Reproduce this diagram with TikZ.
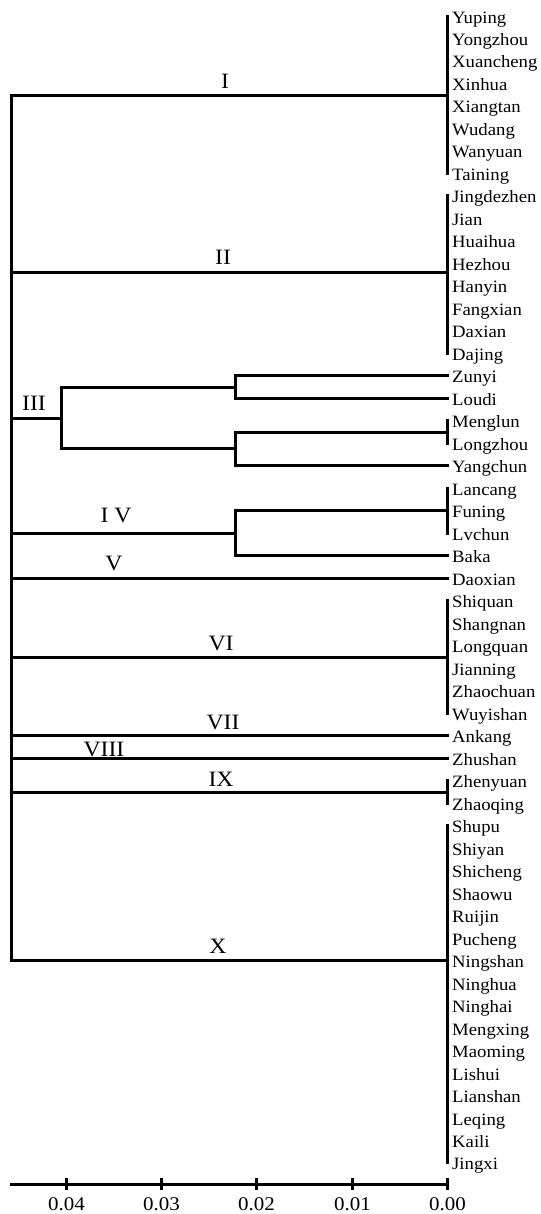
\documentclass[tikz,border=0pt]{standalone}
\usepackage{fontspec}
\setmainfont{Liberation Serif}[FakeStretch=1.08]
\begin{document}
\begin{tikzpicture}[x=1bp,y=-1bp,
  br/.style={line width=3bp, line cap=rect, line join=miter},
  leaf/.style={anchor=base west, inner sep=0pt, font=\fontsize{17.4}{17.4}\selectfont},
  roman/.style={anchor=base, inner sep=0pt, font=\fontsize{22}{22}\selectfont},
  ticklab/.style={anchor=base, inner sep=0pt, font=\fontsize{19.5}{19.5}\selectfont}]
\useasboundingbox (0,0) rectangle (541,1214);
% leaves
\foreach \nm [count=\i from 0] in {Yuping,Yongzhou,Xuancheng,Xinhua,Xiangtan,Wudang,Wanyuan,Taining,
  Jingdezhen,Jian,Huaihua,Hezhou,Hanyin,Fangxian,Daxian,Dajing,
  Zunyi,Loudi,Menglun,Longzhou,Yangchun,
  Lancang,Funing,Lvchun,Baka,Daoxian,
  Shiquan,Shangnan,Longquan,Jianning,Zhaochuan,Wuyishan,
  Ankang,Zhushan,Zhenyuan,Zhaoqing,
  Shupu,Shiyan,Shicheng,Shaowu,Ruijin,Pucheng,Ningshan,Ninghua,Ninghai,Mengxing,Maoming,Lishui,Lianshan,Leqing,Kaili,Jingxi}{
  \pgfmathsetmacro\yy{floor(16+22.49*\i)+0.5}
  \coordinate (t\i) at (447.5,\yy);
  \node[leaf] (n\i) at (452,{\yy+6.5}) {\nm};
}
% root
\coordinate (kI) at (11.5,95.5);
\coordinate (kII) at (11.5,272.5);
\coordinate (kIII) at (11.5,418.5);
\coordinate (kIV) at (11.5,533.5);
\coordinate (kVI) at (11.5,657.5);
\coordinate (kIX) at (11.5,792.5);
\coordinate (kX) at (11.5,960.5);
\draw[br] (kI) -- (kX);
% I
\draw[br] (kI) -- (kI -| t0);
\draw[br] (t0) -- (t7);
% II
\draw[br] (kII) -- (kII -| t8);
\draw[br] (t8) -- (t15);
% III
\coordinate (a1) at (235.5,387.5);
\coordinate (a2) at (235.5,432.5);
\coordinate (a3) at (61.5,418.5);
\coordinate (a4) at (235.5,448.5);
\draw[br] (t16) -- (t16 -| a1) -- (t17 -| a1) -- (t17);
\draw[br] (t18) -- (t19);
\draw[br] (a2 -| t18) -- (a2) -- (t20 -| a2) -- (t20);
\draw[br] (a1) -- (a1 -| a3) -- (a4 -| a3) -- (a4);
\draw[br] (kIII) -- (a3);
% IV
\coordinate (b1) at (235.5,510.5);
\draw[br] (t21) -- (t23);
\draw[br] (t22) -- (b1) -- (t24 -| b1) -- (t24);
\draw[br] (kIV) -- (kIV -| b1);
% V
\draw[br] (t25 -| kI) -- (t25);
% VI
\draw[br] (t26) -- (t31);
\draw[br] (kVI) -- (kVI -| t26);
% VII, VIII
\draw[br] (t32 -| kI) -- (t32);
\draw[br] (t33 -| kI) -- (t33);
% IX
\draw[br] (t34) -- (t35);
\draw[br] (kIX) -- (kIX -| t34);
% X
\draw[br] (t36) -- (t51);
\draw[br] (kX) -- (kX -| t36);
% cluster labels
\node[roman] (rI) at (225,88) {I};
\node[roman] (rII) at (223,264) {II};
\node[roman] (rIII) at (34,410) {III};
\node[roman] (rIV) at (116,522) {I V};
\node[roman] (rV) at (114,570) {V};
\node[roman] (rVI) at (221,650) {VI};
\node[roman] (rVII) at (223,729) {VII};
\node[roman] (rVIII) at (104,756) {VIII};
\node[roman] (rIX) at (221,786) {IX};
\node[roman] (rX) at (218,953) {X};
% axis
\coordinate (ax0) at (11.5,1184.5);
\coordinate (ax1) at (447.5,1184.5);
\draw[br] (ax0) -- (ax1);
\foreach \xx/\v [count=\k from 0] in {447.5/0.00,352.5/0.01,256.5/0.02,161.5/0.03,66.5/0.04}{
  \draw[br,line cap=butt] (\xx,1178) -- (\xx,1190);
  \node[ticklab] (tk\k) at (\xx,1210) {\v};
}
\end{tikzpicture}
\end{document}
